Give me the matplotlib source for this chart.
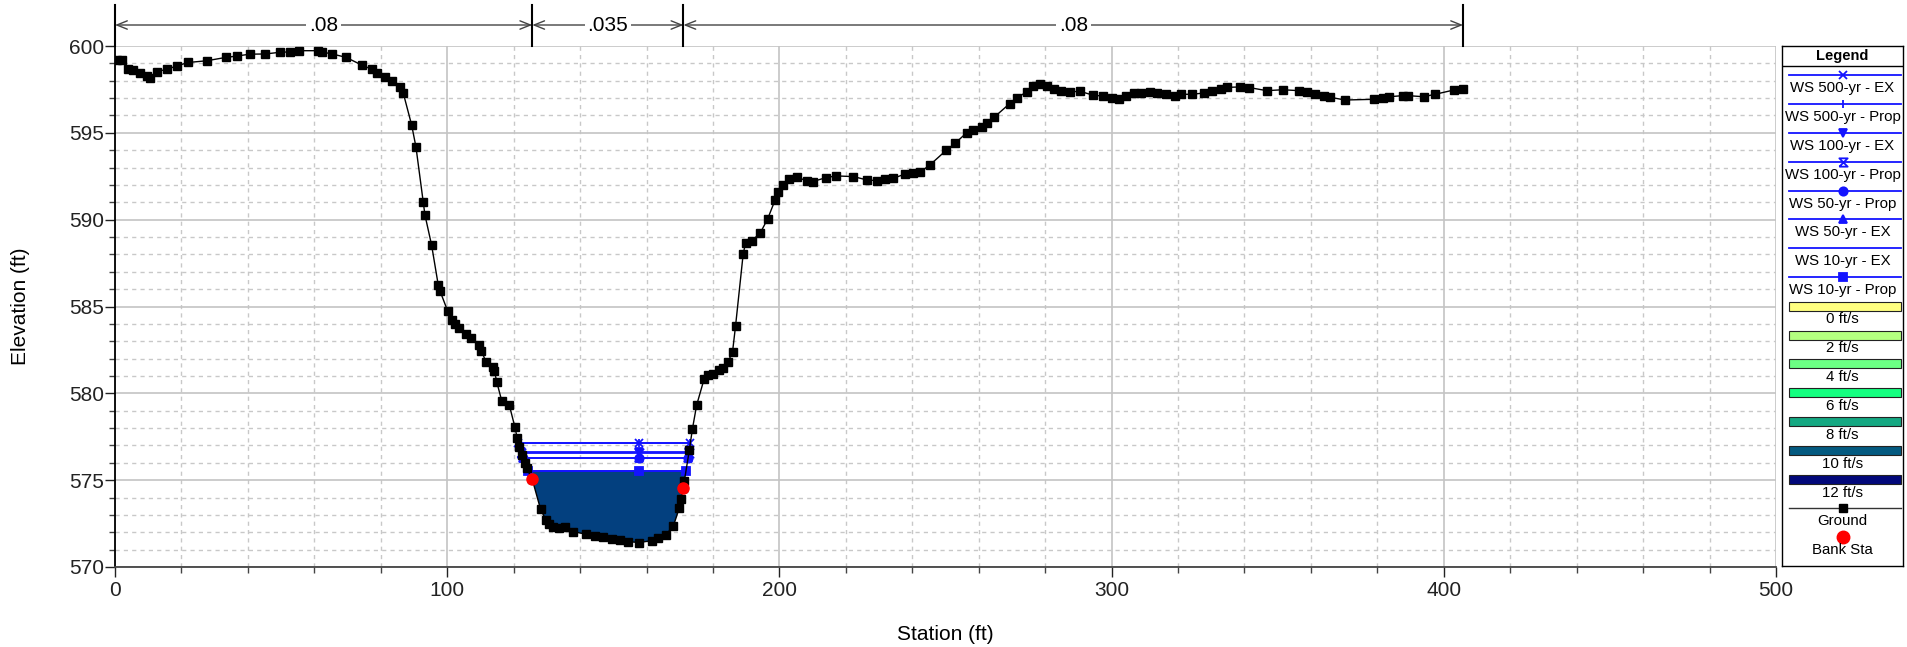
import numpy as np
import matplotlib
matplotlib.use('Agg')
from matplotlib import pyplot as plt
from matplotlib.patches import Rectangle
from matplotlib.ticker import MultipleLocator

plt.rcParams['font.family'] = ['Liberation Sans', 'DejaVu Sans']

# Ground profile (station ft, elevation ft)
ground_sta = [0.5, 2.0, 4.0, 5.5, 7.5, 9.5, 10.5, 12.5, 15.6, 18.6, 22.0, 27.6, 33.3, 36.6,
              40.6, 45.2, 49.7, 52.7, 55.4, 61.2, 62.2, 65.4, 69.5, 74.3, 77.3, 78.8, 81.3,
              83.3, 85.8, 86.8, 89.3, 90.6, 92.8, 93.3, 95.3, 97.3, 97.8, 100.1, 101.3, 102.3,
              103.6, 105.7, 107.1, 109.6, 110.3, 111.7, 113.9, 114.2, 114.9, 116.4, 118.7,
              120.4, 121.1, 121.6, 122.4, 123.3, 123.9, 125.6, 128.1, 129.7, 130.5, 131.9,
              133.8, 135.5, 137.8, 141.8, 144.5, 146.8, 149.5, 152.0, 154.5, 157.8, 161.7,
              163.5, 165.8, 168.1, 169.9, 170.4, 171.1, 171.4, 172.9, 173.8, 175.1, 177.3,
              178.6, 179.9, 181.9, 182.9, 184.6, 185.9, 186.8, 189.1, 189.8, 191.7, 194.2,
              196.5, 198.7, 199.7, 201.0, 203.0, 205.2, 208.2, 210.0, 214.0, 217.0, 222.3,
              226.3, 229.3, 231.8, 234.3, 237.8, 240.3, 242.3, 245.3, 250.3, 252.9, 256.4,
              258.4, 260.9, 262.6, 264.6, 269.3, 271.5, 274.4, 276.4, 278.4, 280.6, 282.6,
              284.9, 287.6, 290.4, 294.5, 297.5, 300.2, 302.2, 304.3, 306.8, 309.0, 311.6,
              313.6, 316.4, 319.1, 320.9, 324.1, 327.7, 330.1, 332.8, 334.8, 338.6, 341.3,
              346.7, 351.5, 356.3, 358.8, 361.1, 364.0, 365.7, 370.3, 378.9, 381.8, 383.6,
              387.6, 389.3, 393.9, 397.4, 403.1, 405.8]
ground_elev = [599.2, 599.2, 598.7, 598.6, 598.46, 598.3, 598.14, 598.52, 598.66, 598.85,
               599.05, 599.15, 599.34, 599.42, 599.53, 599.54, 599.64, 599.66, 599.73, 599.73,
               599.66, 599.54, 599.35, 598.9, 598.66, 598.46, 598.23, 598.0, 597.66, 597.27,
               595.45, 594.18, 591.0, 590.27, 588.54, 586.24, 585.91, 584.76, 584.23, 584.0,
               583.75, 583.42, 583.17, 582.79, 582.46, 581.79, 581.5, 581.31, 580.67, 579.58,
               579.32, 578.04, 577.4, 576.9, 576.45, 575.98, 575.69, 575.05, 573.33, 572.71,
               572.48, 572.33, 572.24, 572.29, 572.04, 571.89, 571.81, 571.75, 571.62, 571.54,
               571.46, 571.41, 571.52, 571.66, 571.85, 572.37, 573.42, 573.9, 574.57, 574.97,
               576.74, 577.93, 579.33, 580.8, 581.06, 581.12, 581.35, 581.44, 581.83, 582.4,
               583.88, 588.03, 588.64, 588.79, 589.22, 590.06, 591.13, 591.58, 592.0, 592.33,
               592.44, 592.25, 592.19, 592.42, 592.52, 592.48, 592.29, 592.25, 592.33, 592.38,
               592.63, 592.67, 592.73, 593.15, 594.01, 594.4, 595.01, 595.16, 595.32, 595.55,
               595.89, 596.68, 596.99, 597.37, 597.68, 597.82, 597.68, 597.5, 597.42, 597.35,
               597.4, 597.16, 597.12, 597.02, 596.95, 597.1, 597.3, 597.31, 597.37, 597.3,
               597.23, 597.12, 597.22, 597.22, 597.29, 597.43, 597.53, 597.62, 597.64, 597.61,
               597.43, 597.48, 597.43, 597.33, 597.24, 597.14, 597.05, 596.89, 596.93, 597.02,
               597.08, 597.14, 597.14, 597.08, 597.22, 597.47, 597.52]

bank_sta = [125.6, 171.1]
bank_elev = [575.05, 574.57]

# Water surfaces
ws_names = ['WS 500-yr - EX', 'WS 500-yr - Prop', 'WS 100-yr - EX', 'WS 100-yr - Prop',
            'WS 50-yr - Prop', 'WS 50-yr - EX', 'WS 10-yr - EX', 'WS 10-yr - Prop']
ws_elev = [577.16, 577.16, 576.60, 576.55, 576.30, 576.25, 575.52, 575.52]
ws_mid_sta = 157.8
hourglass = [(-1, -1), (1, -1), (-1, 1), (1, 1), (-1, -1)]
ws_markers = ['x', '|', 'v', hourglass, 'o', '^', None, 's']

# Velocity legend
vel_labels = ['0 ft/s', '2 ft/s', '4 ft/s', '6 ft/s', '8 ft/s', '10 ft/s', '12 ft/s']
vel_colors = ['#ffff80', '#b4ff80', '#6cff84', '#14ff80', '#14a882', '#045a80', '#02087a']
fill_color = '#03407f'

# Manning's n values between breaks
n_breaks = [0, 125.6, 171.1, 405.8]
n_values = ['.08', '.035', '.08']

ws_color = '#1414ff'

g_sta = np.array(ground_sta)
g_elev = np.array(ground_elev)
lb = (g_sta > 110) & (g_sta < 126)
rb = (g_sta > 170) & (g_sta < 180)


def ws_edges(z):
    left = np.interp(z, g_elev[lb][::-1], g_sta[lb][::-1])
    right = np.interp(z, g_elev[rb], g_sta[rb])
    return left, right


fig = plt.figure(figsize=(19.07, 6.47), dpi=100)
W, H = 1907, 647
ax = fig.add_axes([115 / W, 1 - 567 / H, (1776 - 115) / W, (567 - 46) / H])

# flow area fill (10-yr)
z = ws_elev[-1]
l, r = ws_edges(z)
inside = (g_sta > l) & (g_sta < r)
px = np.concatenate([[l], g_sta[inside], [r]])
py = np.concatenate([[z], g_elev[inside], [z]])
ax.fill(px, py, color=fill_color, lw=0, zorder=2)

# water surface lines
for name, z, m in zip(ws_names, ws_elev, ws_markers):
    l, r = ws_edges(z)
    xs = [l, ws_mid_sta, r]
    mfc = 'none' if m is hourglass else ws_color
    ax.plot(xs, [z] * 3, color=ws_color, lw=1.3, marker=m, ms=6, mfc=mfc,
            mec=ws_color, mew=1.3, zorder=3)

ax.plot(ground_sta, ground_elev, color='black', lw=1, marker='s', ms=5.6, zorder=4)
ax.plot(bank_sta, bank_elev, 'o', color='#ff0000', ms=8, zorder=5)

ax.set_xlim(0, 500)
ax.set_ylim(570, 600)
ax.xaxis.set_major_locator(MultipleLocator(100))
ax.xaxis.set_minor_locator(MultipleLocator(20))
ax.yaxis.set_major_locator(MultipleLocator(5))
ax.yaxis.set_minor_locator(MultipleLocator(1))
ax.grid(which='major', color='#c4c4c4', lw=1.2, ls='-')
ax.grid(which='minor', color='#c8c8c8', lw=1, ls=(0, (3, 3)))
ax.set_axisbelow(True)
for s in ['top', 'right']:
    ax.spines[s].set_visible(False)
ax.spines['left'].set_color('black')
ax.spines['bottom'].set_color('#444444')
ax.spines['left'].set_linewidth(1.3)
ax.spines['bottom'].set_linewidth(1.3)
ax.tick_params(which='major', direction='out', length=7, width=1, labelsize=15, pad=3, colors='#222222')
ax.tick_params(which='minor', direction='out', length=4.5, width=1, colors='#444444')
ax.tick_params(axis='y', which='major', length=7, pad=1)
ax.set_xlabel('Station (ft)', fontsize=15, labelpad=18)
ax.set_ylabel('Elevation (ft)', fontsize=15, labelpad=28)

# n-value brackets above the plot
y_bar = 600 + (46 - 5) / 17.37
y_line = 600 + (46 - 25) / 17.37
for s in n_breaks:
    ax.plot([s, s], [600, y_bar], color='black', lw=1.5, clip_on=False, zorder=6)
for i, nv in enumerate(n_values):
    a, b = n_breaks[i], n_breaks[i + 1]
    ax.annotate('', xy=(a, y_line), xytext=(b, y_line), annotation_clip=False,
                arrowprops=dict(arrowstyle='<->,head_length=0.5,head_width=0.2',
                                color='#444444', lw=1, shrinkA=0, shrinkB=0,
                                mutation_scale=15))
    ax.text((a + b) / 2, y_line, nv, fontsize=15, ha='center', va='center',
            bbox=dict(facecolor='white', edgecolor='none', pad=2), clip_on=False, zorder=7)

# legend panel
la = fig.add_axes([1782 / W, 1 - 566 / H, (1903 - 1782) / W, (566 - 46) / H])
la.set_xlim(0, 1)
la.set_ylim(566, 46)
la.set_xticks([])
la.set_yticks([])
for s in la.spines.values():
    s.set_color('black')
    s.set_linewidth(1)
la.text(0.5, 56, 'Legend', fontsize=10.5, fontweight='bold', ha='center', va='center')
la.axhline(66.5, color='black', lw=1)

step = 28.9
y0 = 75
x_l, x_r = 0.06, 0.985
for i, (name, m) in enumerate(zip(ws_names, ws_markers)):
    y = y0 + i * step
    la.plot([x_l, x_r], [y, y], color=ws_color, lw=1.3)
    if m is not None:
        mfc = 'none' if m is hourglass else ws_color
        la.plot([0.5], [y], marker=m, ms=6, color=ws_color, mfc=mfc, mew=1.3)
    la.text(0.5, y + 13, name, fontsize=10.8, ha='center', va='center')

for j, (lab, c) in enumerate(zip(vel_labels, vel_colors)):
    y = y0 + (len(ws_names) + j) * step
    la.add_patch(Rectangle((x_l, y - 4.5), x_r - x_l, 9, facecolor=c, edgecolor='#222222', lw=0.8))
    la.text(0.5, y + 13, lab, fontsize=10.8, ha='center', va='center')

y = y0 + (len(ws_names) + len(vel_labels)) * step
la.plot([x_l, x_r], [y, y], color='#333333', lw=1)
la.plot([0.5], [y], marker='s', ms=6, color='black')
la.text(0.5, y + 13, 'Ground', fontsize=10.8, ha='center', va='center')
y += step
la.plot([0.5], [y], marker='o', ms=9, color='#ff0000')
la.text(0.5, y + 13, 'Bank Sta', fontsize=10.8, ha='center', va='center')

plt.savefig('out.png', dpi=100)
